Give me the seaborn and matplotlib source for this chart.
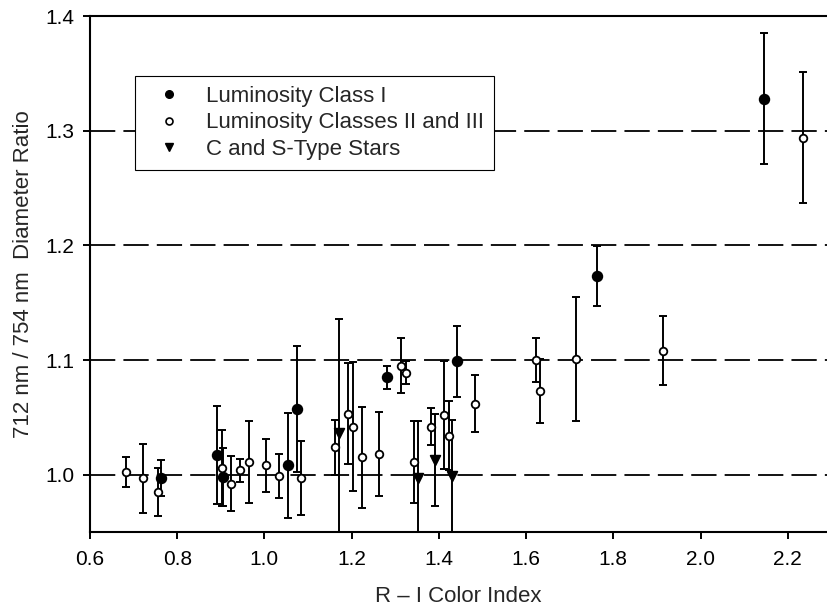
"""712/754 nm diameter ratio vs R-I color index."""

import matplotlib

matplotlib.use("Agg")
import matplotlib.pyplot as plt
import numpy as np
import pandas as pd
import seaborn as sns
from matplotlib.lines import Line2D

# Luminosity Class I (filled circles)
class1_ri = [0.763, 0.891, 0.904, 1.054, 1.074, 1.282, 1.442, 1.763, 2.145]
class1_ratio = [0.997, 1.017, 0.998, 1.008, 1.057, 1.085, 1.099, 1.173, 1.328]
class1_err = [0.016, 0.043, 0.025, 0.046, 0.055, 0.010, 0.031, 0.026, 0.057]

# Luminosity Classes II and III (open circles)
class23_ri = [0.682, 0.722, 0.755, 0.902, 0.923, 0.943, 0.964, 1.003, 1.033,
              1.083, 1.162, 1.192, 1.202, 1.223, 1.262, 1.313, 1.324, 1.343,
              1.383, 1.412, 1.423, 1.484, 1.623, 1.633, 1.714, 1.913, 2.234]
class23_ratio = [1.002, 0.997, 0.985, 1.006, 0.992, 1.004, 1.011, 1.008, 0.999,
                 0.997, 1.024, 1.053, 1.042, 1.015, 1.018, 1.095, 1.089, 1.011,
                 1.042, 1.052, 1.034, 1.062, 1.100, 1.073, 1.101, 1.108, 1.294]
class23_err = [0.013, 0.030, 0.021, 0.033, 0.024, 0.010, 0.036, 0.023, 0.019,
               0.032, 0.024, 0.044, 0.056, 0.044, 0.037, 0.024, 0.010, 0.036,
               0.016, 0.047, 0.030, 0.025, 0.019, 0.028, 0.054, 0.030, 0.057]

# C and S-type stars (down triangles)
cs_ri = [1.171, 1.352, 1.391, 1.431]
cs_ratio = [1.036, 0.997, 1.013, 0.999]
cs_err = [0.100, 0.050, 0.040, 0.049]

ref_lines = [1.0, 1.1, 1.2, 1.3]
x_ticks = [0.6, 0.8, 1.0, 1.2, 1.4, 1.6, 1.8, 2.0, 2.2]
y_ticks = [1.0, 1.1, 1.2, 1.3, 1.4]

groups = [
    ("Luminosity Class I", class1_ri, class1_ratio, class1_err),
    ("Luminosity Classes II and III", class23_ri, class23_ratio, class23_err),
    ("C and S-Type Stars", cs_ri, cs_ratio, cs_err),
]
df = pd.concat(
    [pd.DataFrame({"ri": x, "ratio": y, "err": e, "group": name})
     for name, x, y, e in groups],
    ignore_index=True,
)

sns.set_theme(style="ticks")
plt.rcParams["font.family"] = ["Liberation Sans", "DejaVu Sans"]

fig = plt.figure(figsize=(8.27, 6.11), dpi=100)
ax = fig.add_axes([0.1088, 0.1293, 0.8912, 0.8445])

for y in ref_lines:
    ax.axhline(y, color="black", lw=1.3, dashes=(14, 4.5), zorder=1)

ax.errorbar(df["ri"], df["ratio"], yerr=df["err"], fmt="none",
            ecolor="black", elinewidth=1.4, capsize=2.6, capthick=1.4,
            zorder=2)

styles = {
    "Luminosity Class I": dict(marker="o", color="black", s=48),
    "Luminosity Classes II and III": dict(marker="o", color="white", s=30),
    "C and S-Type Stars": dict(marker="v", color="black", s=48),
}
for name, st in styles.items():
    sub = df[df["group"] == name]
    sns.scatterplot(data=sub, x="ri", y="ratio", marker=st["marker"],
                    color=st["color"], s=st["s"], edgecolor="black",
                    linewidth=1.3, ax=ax, zorder=3, legend=False)

ax.set_xlim(0.6, 2.29)
ax.set_ylim(0.95, 1.4)
ax.set_xticks(x_ticks)
ax.set_yticks(y_ticks)
ax.set_xticklabels([f"{t:.1f}" for t in x_ticks])
ax.set_yticklabels([f"{t:.1f}" for t in y_ticks])
ax.tick_params(axis="both", direction="out", length=5, width=1.4,
               labelsize=15, colors="black")
ax.tick_params(axis="x", pad=8)
ax.tick_params(axis="y", pad=6)
for side in ["left", "bottom", "top"]:
    ax.spines[side].set_linewidth(1.5)
    ax.spines[side].set_color("black")
ax.spines["right"].set_visible(False)

ax.set_xlabel("R \u2013 I Color Index", fontsize=16, labelpad=12)
ax.set_ylabel("712 nm / 754 nm  Diameter Ratio", fontsize=16, labelpad=8)

handles = [
    Line2D([], [], marker="o", ls="none", color="black", markersize=5.5),
    Line2D([], [], marker="o", ls="none", markerfacecolor="white",
           markeredgecolor="black", markeredgewidth=1.2, markersize=5),
    Line2D([], [], marker="v", ls="none", color="black", markersize=5.5),
]
leg = ax.legend(handles, [g[0] for g in groups], loc="upper left",
                bbox_to_anchor=(0.061, 0.884), fontsize=16, frameon=True,
                fancybox=False, framealpha=1, edgecolor="black",
                borderpad=0.45, labelspacing=0.25, handletextpad=0.55,
                handlelength=2.2, borderaxespad=0)
leg.get_frame().set_linewidth(0.8)

fig.savefig("out.png", dpi=100)
